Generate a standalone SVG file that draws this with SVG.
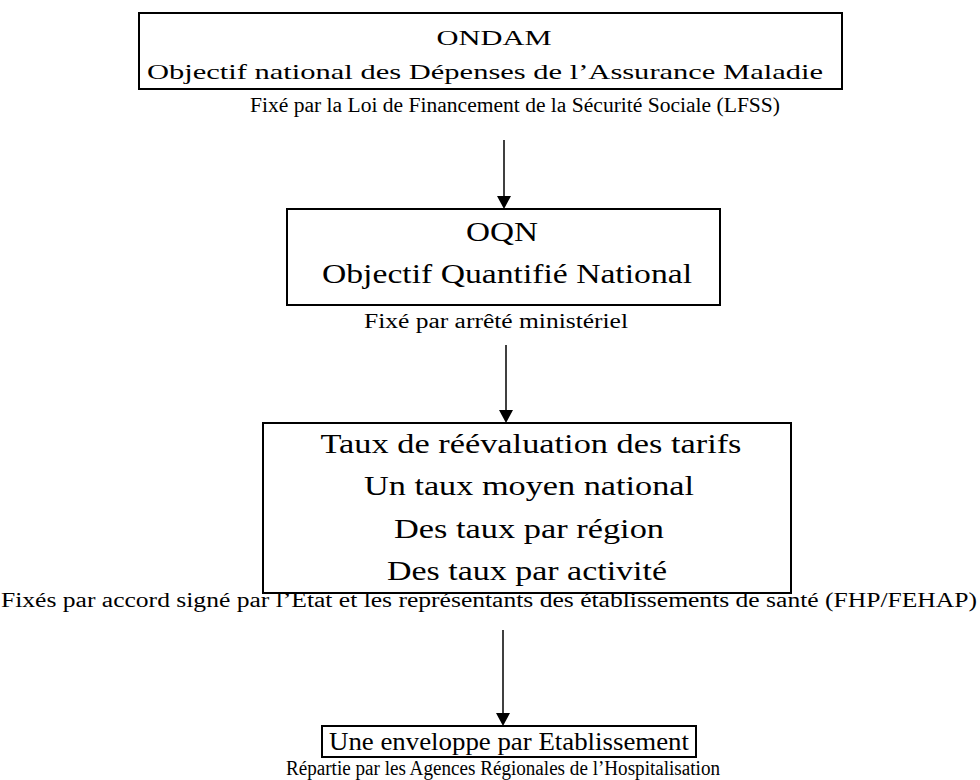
<svg xmlns="http://www.w3.org/2000/svg" width="980" height="780" viewBox="0 0 980 780">
  <style>
    .box { fill: #fff; stroke: #000; stroke-width: 2; }
    text { font-family: "Liberation Serif", "Times New Roman", serif; fill: #000; text-anchor: middle; }
    .t1 { font-size: 22px; }
    .t2 { font-size: 27px; }
    .t3 { font-size: 25px; }
    .cap { font-size: 20px; }
    .link { stroke: #000; stroke-width: 1.5; }
  </style>
  <rect width="980" height="780" fill="#fff"/>

  <!-- national objective -->
  <g id="ondam">
    <rect class="box" x="139" y="13" width="703" height="76"/>
    <text class="t1" x="494" y="45" textLength="115" lengthAdjust="spacingAndGlyphs">ONDAM</text>
    <text class="t1" x="485" y="79" textLength="676" lengthAdjust="spacingAndGlyphs">Objectif national des Dépenses de l’Assurance Maladie</text>
    <text class="cap" x="515" y="112" textLength="530" lengthAdjust="spacingAndGlyphs">Fixé par la Loi de Financement de la Sécurité Sociale (LFSS)</text>
  </g>

  <!-- quantified objective -->
  <g id="oqn">
    <rect class="box" x="287" y="209" width="433" height="96"/>
    <text class="t2" x="502" y="241" textLength="72" lengthAdjust="spacingAndGlyphs">OQN</text>
    <text class="t2" x="507" y="283" textLength="370" lengthAdjust="spacingAndGlyphs">Objectif Quantifié National</text>
    <text class="cap" x="496" y="328" textLength="264" lengthAdjust="spacingAndGlyphs">Fixé par arrêté ministériel</text>
  </g>

  <!-- tariff rates -->
  <g id="taux">
    <rect class="box" x="263" y="423" width="528" height="170"/>
    <text class="t2" x="531" y="453" textLength="421" lengthAdjust="spacingAndGlyphs">Taux de réévaluation des tarifs</text>
    <text class="t2" x="529" y="495" textLength="330" lengthAdjust="spacingAndGlyphs">Un taux moyen national</text>
    <text class="t2" x="529" y="538" textLength="270" lengthAdjust="spacingAndGlyphs">Des taux par région</text>
    <text class="t2" x="527" y="580" textLength="280" lengthAdjust="spacingAndGlyphs">Des taux par activité</text>
    <text class="cap" x="489" y="607" textLength="976" lengthAdjust="spacingAndGlyphs">Fixés par accord signé par l’Etat et les représentants des établissements de santé (FHP/FEHAP)</text>
  </g>

  <!-- per-establishment envelope -->
  <g id="enveloppe">
    <rect class="box" x="322" y="726" width="374" height="31"/>
    <text class="t3" x="509" y="750" textLength="360" lengthAdjust="spacingAndGlyphs">Une enveloppe par Etablissement</text>
    <text class="cap" x="503" y="775" textLength="434" lengthAdjust="spacingAndGlyphs">Répartie par les Agences Régionales de l’Hospitalisation</text>
  </g>

  <g id="connectors">
    <line class="link" x1="504" y1="140" x2="504" y2="200"/>
    <path d="M497,196 L511,196 L504,209 Z" fill="#000"/>
    <line class="link" x1="506" y1="345" x2="506" y2="414"/>
    <path d="M499,410 L513,410 L506,423 Z" fill="#000"/>
    <line class="link" x1="503" y1="630" x2="503" y2="717"/>
    <path d="M496,713 L510,713 L503,726 Z" fill="#000"/>
  </g>
</svg>
